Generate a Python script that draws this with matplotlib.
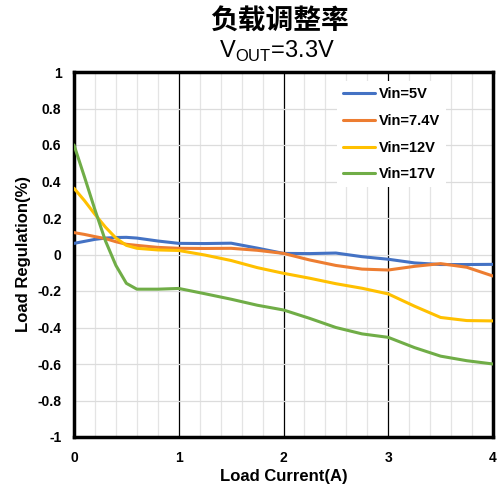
import matplotlib

matplotlib.use("Agg")
import matplotlib.pyplot as plt
from matplotlib.ticker import MultipleLocator

plt.rcParams["font.family"] = ["Liberation Sans", "DejaVu Sans"]
plt.rcParams["mathtext.fontset"] = "custom"
plt.rcParams["mathtext.rm"] = "Liberation Sans"

# load current (A)
current = [0, 0.1, 0.2, 0.3, 0.4, 0.5, 0.6, 0.8, 1.0, 1.25, 1.5, 1.75,
           2.0, 2.25, 2.5, 2.75, 3.0, 3.25, 3.5, 3.75, 4.0]

vin_5 = [0.061, 0.072, 0.083, 0.090, 0.093, 0.094, 0.090, 0.074, 0.061, 0.060,
         0.062, 0.035, 0.006, 0.005, 0.008, -0.012, -0.026, -0.046, -0.055,
         -0.055, -0.054]
vin_7_4 = [0.120, 0.110, 0.098, 0.087, 0.070, 0.056, 0.050, 0.039, 0.034,
           0.033, 0.034, 0.023, 0.006, -0.030, -0.060, -0.080, -0.085, -0.065,
           -0.050, -0.070, -0.118]
vin_12 = [0.363, 0.295, 0.220, 0.150, 0.090, 0.050, 0.034, 0.025, 0.022,
          -0.003, -0.033, -0.072, -0.103, -0.130, -0.160, -0.185, -0.216,
          -0.283, -0.345, -0.362, -0.364]
vin_17 = [0.600, 0.425, 0.245, 0.075, -0.060, -0.158, -0.190, -0.190, -0.186,
          -0.215, -0.245, -0.278, -0.304, -0.350, -0.400, -0.435, -0.454,
          -0.510, -0.557, -0.582, -0.600]

series = [
    ("Vin=5V", vin_5, "#4472C4"),
    ("Vin=7.4V", vin_7_4, "#ED7D31"),
    ("Vin=12V", vin_12, "#FFC000"),
    ("Vin=17V", vin_17, "#70AD47"),
]

fig = plt.figure(figsize=(5.01, 4.88), dpi=100)
ax = fig.add_axes([74 / 501, 1 - 437 / 488, 419 / 501, 365 / 488])

for label, vals, color in series:
    ax.plot(current, vals, color=color, linewidth=2.2, label=label,
            solid_capstyle="round", solid_joinstyle="round", zorder=3)

ax.set_xlim(0, 4)
ax.set_ylim(-1, 1)
ax.xaxis.set_major_locator(MultipleLocator(1))
ax.xaxis.set_minor_locator(MultipleLocator(0.2))
ax.yaxis.set_major_locator(MultipleLocator(0.2))
ax.grid(True, axis="x", which="minor", color="#e4e4e4", linewidth=0.9)
ax.grid(True, axis="y", which="major", color="#dcdcdc", linewidth=0.9)
for xv in [1, 2, 3]:
    ax.axvline(xv, color="black", linewidth=0.9, zorder=1)

ax.set_yticks([-1, -0.8, -0.6, -0.4, -0.2, 0, 0.2, 0.4, 0.6, 0.8, 1])
ax.set_yticklabels(["-1", "-0.8", "-0.6", "-0.4", "-0.2", "0", "0.2", "0.4",
                    "0.6", "0.8", "1"])
ax.tick_params(which="both", length=0)
ax.tick_params(axis="y", pad=9)
ax.tick_params(axis="x", pad=10)
for t in ax.get_xticklabels() + ax.get_yticklabels():
    t.set_fontweight("bold")
    t.set_fontsize(10)

for sp in ax.spines.values():
    sp.set_linewidth(2.5)
    sp.set_color("black")

ax.set_xlabel("Load Current(A)", fontsize=12, fontweight="bold", labelpad=3)
ax.set_ylabel("Load Regulation(%)", fontsize=12, fontweight="bold", labelpad=5)

leg = ax.legend(loc="upper left", bbox_to_anchor=(0.61, 0.995),
                prop={"weight": "bold", "size": 10.5}, frameon=True,
                fancybox=False, edgecolor="none", framealpha=1,
                handlelength=2.2, handletextpad=0.3, labelspacing=0.88,
                borderpad=0.4)
leg.set_zorder(5)

fig.text(0.557, 1 - 22 / 488, "负载调整率", ha="center", va="center",
         fontsize=20, fontweight="bold",
         family=["Noto Sans CJK SC", "DejaVu Sans"])
fig.text(0.552, 1 - 51 / 488, r"V$_{\mathrm{OUT}}$=3.3V", ha="center",
         va="center", fontsize=17)

fig.savefig("out.png", dpi=100)
